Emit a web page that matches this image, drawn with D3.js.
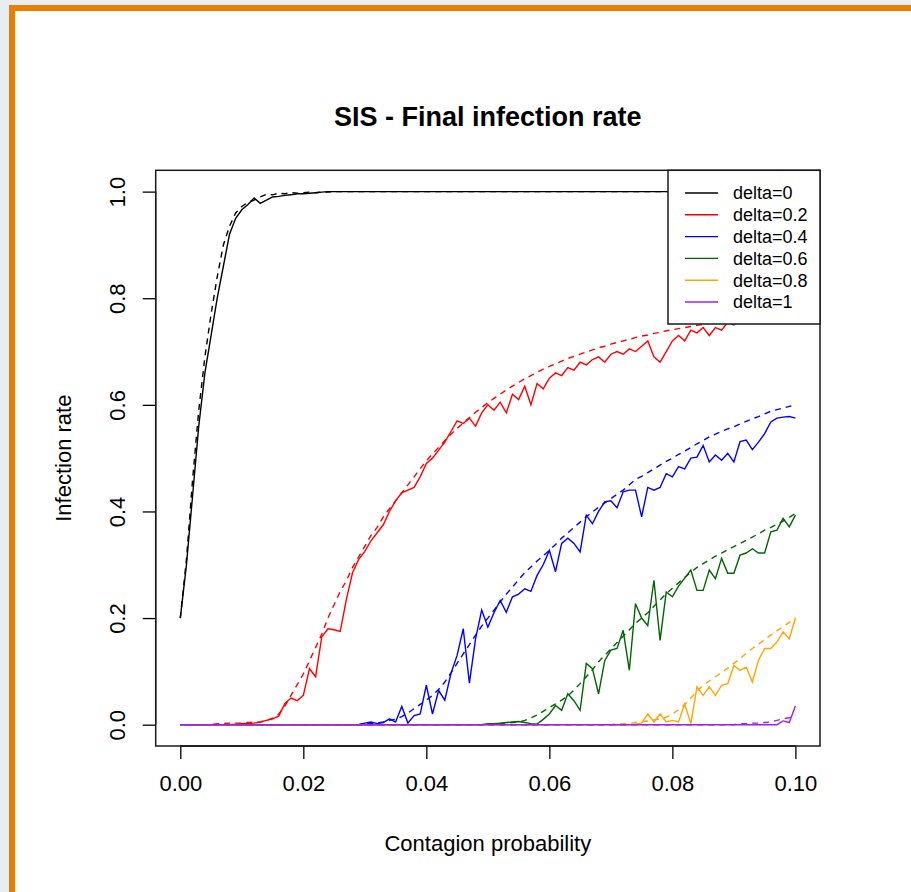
<!DOCTYPE html>
<html>
<head>
<meta charset="utf-8">
<script src="https://cdn.jsdelivr.net/npm/d3@7"></script>
<style>
  html, body { margin: 0; padding: 0; background: #e8edf0; }
  svg { display: block; font-family: "Liberation Sans", Arial, sans-serif; }
</style>
</head>
<body>
<svg id="chart" width="911" height="892"></svg>
<script>
// contagion probability goes 0.000 .. 0.100 in steps of 0.001 (101 points)
const probs = d3.range(101).map(i => i / 1000);

const deltas = ["delta=0", "delta=0.2", "delta=0.4", "delta=0.6", "delta=0.8", "delta=1"];
const colors = ["#000000", "#ff0000", "#0000ff", "#006400", "#ffa500", "#a020f0"];

const xTicks = [0, 0.02, 0.04, 0.06, 0.08, 0.10];
const yTicks = [0, 0.2, 0.4, 0.6, 0.8, 1.0];

// simulated (solid) and expected (dashed) final infection rate
const sim0 = [
  0.2, 0.3, 0.43, 0.56, 0.66, 0.73, 0.8, 0.86, 0.92, 0.95,
  0.966, 0.976, 0.988, 0.978, 0.984, 0.99, 0.991, 0.993, 0.994, 0.996,
  0.996, 0.997, 0.998, 0.999, 1, 1, 1, 1, 1, 1,
  1, 1, 1, 1, 1, 1, 1, 1, 1, 1,
  1, 1, 1, 1, 1, 1, 1, 1, 1, 1,
  1, 1, 1, 1, 1, 1, 1, 1, 1, 1,
  1, 1, 1, 1, 1, 1, 1, 1, 1, 1,
  1, 1, 1, 1, 1, 1, 1, 1, 1, 1,
  1, 1, 1, 1, 1, 1, 1, 1, 1, 1,
  1, 1, 1, 1, 1, 1, 1, 1, 1, 1, 1
];
const exp0 = [
  0.2, 0.31, 0.46, 0.59, 0.69, 0.77, 0.84, 0.9, 0.935, 0.96,
  0.972, 0.98, 0.984, 0.99, 0.995, 0.994, 0.997, 0.996, 0.998, 0.997,
  0.998, 0.999, 0.998, 0.999, 0.999, 1, 1, 1, 1, 1,
  1, 1, 1, 1, 1, 1, 1, 1, 1, 1,
  1, 1, 1, 1, 1, 1, 1, 1, 1, 1,
  1, 1, 1, 1, 1, 1, 1, 1, 1, 1,
  1, 1, 1, 1, 1, 1, 1, 1, 1, 1,
  1, 1, 1, 1, 1, 1, 1, 1, 1, 1,
  1, 1, 1, 1, 1, 1, 1, 1, 1, 1,
  1, 1, 1, 1, 1, 1, 1, 1, 1, 1, 1
];
const sim02 = [
  0, 0, 0, 0, 0, 0, 0, 0, 0, 0.001,
  0.002, 0.002, 0.003, 0.005, 0.008, 0.011, 0.016, 0.04, 0.05, 0.045,
  0.055, 0.105, 0.09, 0.165, 0.18, 0.178, 0.175, 0.235, 0.285, 0.31,
  0.325, 0.345, 0.36, 0.375, 0.4, 0.42, 0.435, 0.44, 0.445, 0.465,
  0.49, 0.5, 0.515, 0.53, 0.55, 0.57, 0.565, 0.575, 0.56, 0.585,
  0.6, 0.59, 0.605, 0.585, 0.62, 0.61, 0.635, 0.6, 0.64, 0.63,
  0.65, 0.66, 0.655, 0.67, 0.665, 0.68, 0.675, 0.685, 0.69, 0.68,
  0.695, 0.7, 0.695, 0.705, 0.7, 0.71, 0.72, 0.69, 0.68, 0.7,
  0.72, 0.73, 0.72, 0.74, 0.735, 0.745, 0.73, 0.745, 0.74, 0.755,
  0.75, 0.76, 0.755, 0.765, 0.76, 0.77, 0.765, 0.775, 0.77, 0.78, 0.775
];
const exp02 = [
  0, 0, 0, 0, 0, 0, 0.002, 0.002, 0.003, 0.003,
  0.003, 0.004, 0.004, 0.005, 0.008, 0.012, 0.02, 0.035, 0.055, 0.075,
  0.095, 0.12, 0.145, 0.17, 0.2, 0.225, 0.25, 0.27, 0.295, 0.315,
  0.335, 0.355, 0.37, 0.39, 0.405, 0.42, 0.435, 0.45, 0.465, 0.48,
  0.495, 0.508, 0.52, 0.533, 0.545, 0.556, 0.566, 0.576, 0.586, 0.595,
  0.604, 0.612, 0.62, 0.628, 0.635, 0.642, 0.649, 0.655, 0.661, 0.667,
  0.672, 0.677, 0.682, 0.687, 0.691, 0.695, 0.699, 0.703, 0.707, 0.71,
  0.714, 0.717, 0.72, 0.723, 0.726, 0.729, 0.731, 0.734, 0.736, 0.739,
  0.741, 0.743, 0.745, 0.747, 0.749, 0.751, 0.753, 0.755, 0.757, 0.758,
  0.76, 0.762, 0.763, 0.765, 0.766, 0.768, 0.769, 0.77, 0.772, 0.773, 0.774
];
const sim04 = [
  0, 0, 0, 0, 0, 0, 0, 0, 0, 0,
  0, 0, 0, 0, 0, 0, 0, 0, 0, 0,
  0, 0, 0, 0, 0, 0, 0, 0, 0, 0,
  0.003, 0.005, 0.002, 0.004, 0.011, 0.005, 0.034, 0.003, 0.017, 0.02,
  0.074, 0.02, 0.064, 0.046, 0.096, 0.13, 0.18, 0.078, 0.161, 0.215,
  0.183, 0.21, 0.233, 0.211, 0.24, 0.245, 0.255, 0.25, 0.28, 0.3,
  0.327, 0.287, 0.34, 0.35, 0.34, 0.324, 0.393, 0.377, 0.4, 0.418,
  0.42, 0.407, 0.437, 0.44, 0.44, 0.39, 0.445, 0.44, 0.445, 0.471,
  0.465, 0.484, 0.48, 0.5, 0.502, 0.524, 0.493, 0.506, 0.496, 0.509,
  0.493, 0.531, 0.534, 0.516, 0.53, 0.546, 0.568, 0.575, 0.577, 0.578, 0.575
];
const exp04 = [
  0, 0, 0, 0, 0, 0, 0, 0, 0, 0,
  0, 0, 0, 0, 0, 0, 0, 0, 0, 0,
  0, 0, 0, 0, 0, 0, 0, 0, 0, 0,
  0.002, 0.002, 0.003, 0.005, 0.008, 0.01, 0.015, 0.022, 0.03, 0.038,
  0.046, 0.055, 0.066, 0.08, 0.097, 0.115, 0.133, 0.15, 0.168, 0.185,
  0.2, 0.215, 0.23, 0.245, 0.258, 0.272, 0.285, 0.296, 0.307, 0.317,
  0.327, 0.338, 0.35, 0.36, 0.37, 0.38, 0.39, 0.399, 0.408, 0.416,
  0.424, 0.432, 0.44, 0.45, 0.46, 0.466, 0.473, 0.48, 0.487, 0.494,
  0.5, 0.507, 0.513, 0.52, 0.527, 0.533, 0.54, 0.545, 0.55, 0.555,
  0.559, 0.564, 0.569, 0.574, 0.578, 0.583, 0.588, 0.591, 0.594, 0.597, 0.6
];
const sim06 = [
  0, 0, 0, 0, 0, 0, 0, 0, 0, 0,
  0, 0, 0, 0, 0, 0, 0, 0, 0, 0,
  0, 0, 0, 0, 0, 0, 0, 0, 0, 0,
  0, 0, 0, 0, 0, 0, 0, 0, 0, 0,
  0, 0, 0, 0, 0, 0, 0, 0, 0, 0,
  0.002, 0.002, 0.003, 0.004, 0.005, 0.006, 0.004, 0.002, 0.001, 0.01,
  0.02, 0.036, 0.027, 0.058, 0.045, 0.027, 0.115, 0.105, 0.058, 0.12,
  0.14, 0.143, 0.177, 0.102, 0.227, 0.2, 0.186, 0.271, 0.158, 0.249,
  0.24, 0.26, 0.275, 0.29, 0.252, 0.252, 0.29, 0.274, 0.312, 0.284,
  0.284, 0.318, 0.322, 0.33, 0.322, 0.322, 0.362, 0.365, 0.387, 0.371, 0.393
];
const exp06 = [
  0, 0, 0, 0, 0, 0, 0, 0, 0, 0,
  0, 0, 0, 0, 0, 0, 0, 0, 0, 0,
  0, 0, 0, 0, 0, 0, 0, 0, 0, 0,
  0, 0, 0, 0, 0, 0, 0, 0, 0, 0,
  0, 0, 0, 0, 0, 0, 0, 0, 0, 0,
  0.001, 0.002, 0.002, 0.003, 0.004, 0.005, 0.008, 0.013, 0.018, 0.025,
  0.032, 0.039, 0.046, 0.054, 0.065, 0.077, 0.09, 0.103, 0.118, 0.13,
  0.142, 0.154, 0.166, 0.178, 0.19, 0.2, 0.21, 0.222, 0.234, 0.246,
  0.256, 0.266, 0.276, 0.286, 0.295, 0.302, 0.309, 0.316, 0.322, 0.328,
  0.334, 0.34, 0.346, 0.352, 0.358, 0.365, 0.37, 0.376, 0.382, 0.389, 0.396
];
const sim08 = [
  0, 0, 0, 0, 0, 0, 0, 0, 0, 0,
  0, 0, 0, 0, 0, 0, 0, 0, 0, 0,
  0, 0, 0, 0, 0, 0, 0, 0, 0, 0,
  0, 0, 0, 0, 0, 0, 0, 0, 0, 0,
  0, 0, 0, 0, 0, 0, 0, 0, 0, 0,
  0, 0, 0, 0, 0, 0, 0, 0, 0, 0,
  0, 0, 0, 0, 0, 0, 0, 0, 0, 0,
  0, 0, 0, 0, 0.001, 0.003, 0.02, 0.005, 0.02, 0.005,
  0.008, 0.005, 0.039, 0.002, 0.071, 0.055, 0.071, 0.055, 0.074, 0.077,
  0.111, 0.102, 0.108, 0.08, 0.121, 0.143, 0.143, 0.155, 0.174, 0.161, 0.2
];
const exp08 = [
  0, 0, 0, 0, 0, 0, 0, 0, 0, 0,
  0, 0, 0, 0, 0, 0, 0, 0, 0, 0,
  0, 0, 0, 0, 0, 0, 0, 0, 0, 0,
  0, 0, 0, 0, 0, 0, 0, 0, 0, 0,
  0, 0, 0, 0, 0, 0, 0, 0, 0, 0,
  0, 0, 0, 0, 0, 0, 0, 0, 0, 0,
  0, 0, 0, 0, 0, 0, 0, 0, 0, 0,
  0, 0.002, 0.002, 0.003, 0.004, 0.005, 0.007, 0.009, 0.011, 0.014,
  0.02, 0.028, 0.038, 0.05, 0.063, 0.074, 0.082, 0.09, 0.098, 0.106,
  0.115, 0.124, 0.134, 0.143, 0.151, 0.16, 0.168, 0.176, 0.184, 0.192, 0.2
];
const sim1 = [
  0, 0, 0, 0, 0, 0, 0, 0, 0, 0,
  0, 0, 0, 0, 0, 0, 0, 0, 0, 0,
  0, 0, 0, 0, 0, 0, 0, 0, 0, 0,
  0, 0, 0, 0, 0, 0, 0, 0, 0, 0,
  0, 0, 0, 0, 0, 0, 0, 0, 0, 0,
  0, 0, 0, 0, 0, 0, 0, 0, 0, 0,
  0, 0, 0, 0, 0, 0, 0, 0, 0, 0,
  0, 0, 0, 0, 0, 0, 0, 0, 0, 0,
  0, 0, 0, 0, 0, 0, 0, 0, 0, 0,
  0, 0, 0, 0, 0, 0, 0, 0, 0.007, 0.004, 0.035
];
const exp1 = [
  0, 0, 0, 0, 0, 0, 0, 0, 0, 0,
  0, 0, 0, 0, 0, 0, 0, 0, 0, 0,
  0, 0, 0, 0, 0, 0, 0, 0, 0, 0,
  0, 0, 0, 0, 0, 0, 0, 0, 0, 0,
  0, 0, 0, 0, 0, 0, 0, 0, 0, 0,
  0, 0, 0, 0, 0, 0, 0, 0, 0, 0,
  0, 0, 0, 0, 0, 0, 0, 0, 0, 0,
  0, 0, 0, 0, 0, 0, 0, 0, 0, 0,
  0, 0, 0, 0, 0, 0, 0, 0, 0, 0,
  0, 0.002, 0.002, 0.003, 0.003, 0.004, 0.005, 0.008, 0.011, 0.013, 0.018
];

const simulated = [sim0, sim02, sim04, sim06, sim08, sim1];
const expected = [exp0, exp02, exp04, exp06, exp08, exp1];

const svg = d3.select("#chart");

// page frame: orange border round a white sheet
svg.append("rect").attr("x", 9).attr("y", 5).attr("width", 902).attr("height", 887).attr("fill", "#e87e04");
svg.append("rect").attr("x", 15).attr("y", 11).attr("width", 896).attr("height", 881).attr("fill", "#ffffff");

// R-style plot region (4% padding on each axis)
let box = { left: 155.7, right: 820, top: 170.3, bottom: 746 };

let x = d3.scaleLinear()
  .domain([-0.004, 0.104])
  .range([box.left, box.right]);

let y = d3.scaleLinear()
  .domain([-0.04, 1.04])
  .range([box.bottom, box.top]);

let g = svg.append("g");

// series: solid = simulation, dashed = expected
let line = d3.line()
  .x((d, i) => x(probs[i]))
  .y(d => y(d));

simulated.forEach((s, k) => {
  g.append("path")
    .datum(s)
    .attr("d", line)
    .attr("fill", "none")
    .attr("stroke", colors[k])
    .attr("stroke-width", 1.4);
  g.append("path")
    .datum(expected[k])
    .attr("d", line)
    .attr("fill", "none")
    .attr("stroke", colors[k])
    .attr("stroke-width", 1.4)
    .attr("stroke-dasharray", "6,5");
});

// x axis
let xAxis = svg.append("g")
  .attr("transform", "translate(0," + box.bottom + ")")
  .call(d3.axisBottom(x).tickValues(xTicks).tickFormat(d3.format(".2f")).tickSize(13).tickPadding(16));

// y axis with rotated labels
let yAxis = svg.append("g")
  .attr("transform", "translate(" + box.left + ",0)")
  .call(d3.axisLeft(y).tickValues(yTicks).tickFormat(d3.format(".1f")).tickSize(13));

[xAxis, yAxis].forEach(a => {
  a.select(".domain").remove();
  a.selectAll("line").attr("stroke", "#000").attr("stroke-width", 1.3);
  a.selectAll("text").attr("font-size", 22).attr("fill", "#000")
    .attr("font-family", "'Liberation Sans', Arial, sans-serif");
});
// R draws the axis line only between the first and last tick
xAxis.append("line").attr("x1", x(0)).attr("x2", x(0.1)).attr("stroke", "#000").attr("stroke-width", 1.3);
yAxis.append("line").attr("y1", y(0)).attr("y2", y(1)).attr("stroke", "#000").attr("stroke-width", 1.3);

yAxis.selectAll(".tick text")
  .attr("x", 0).attr("dy", 0)
  .attr("text-anchor", "middle")
  .attr("transform", "translate(-31,0) rotate(-90)");

// plot box
svg.append("rect")
  .attr("x", box.left).attr("y", box.top)
  .attr("width", box.right - box.left).attr("height", box.bottom - box.top)
  .attr("fill", "none").attr("stroke", "#1a1a1a").attr("stroke-width", 1.5);

// titles
svg.append("text")
  .attr("x", (box.left + box.right) / 2).attr("y", 126)
  .attr("text-anchor", "middle").attr("font-size", 27).attr("font-weight", "bold")
  .text("SIS - Final infection rate");

svg.append("text")
  .attr("x", (box.left + box.right) / 2).attr("y", 851)
  .attr("text-anchor", "middle").attr("font-size", 22)
  .text("Contagion probability");

svg.append("text")
  .attr("transform", "translate(71," + (box.top + box.bottom) / 2 + ") rotate(-90)")
  .attr("text-anchor", "middle").attr("font-size", 22)
  .text("Infection rate");

// legend in the top right corner
let legend = svg.append("g");
legend.append("rect")
  .attr("x", 668).attr("y", box.top)
  .attr("width", box.right - 668).attr("height", 324 - box.top)
  .attr("fill", "#fff").attr("stroke", "#1a1a1a").attr("stroke-width", 1.5);

deltas.forEach((name, k) => {
  let ly = 193 + k * 21.8;
  legend.append("line")
    .attr("x1", 685).attr("x2", 718).attr("y1", ly).attr("y2", ly)
    .attr("stroke", colors[k]).attr("stroke-width", 1.4);
  legend.append("text")
    .attr("x", 733).attr("y", ly).attr("dy", "0.35em")
    .attr("font-size", 18)
    .text(name);
});
</script>
</body>
</html>
